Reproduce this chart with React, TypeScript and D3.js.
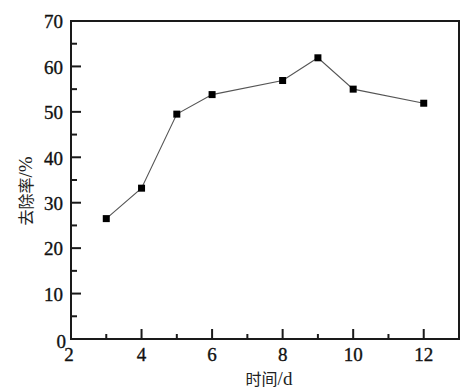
import React from "react";
import * as d3 from "d3";

const days = [3, 4, 5, 6, 8, 9, 10, 12];
const removal = [26.5, 33.2, 49.5, 53.8, 56.9, 61.9, 55.0, 51.9];
const xTicks = [2, 4, 6, 8, 10, 12];
const xMinor = [3, 5, 7, 9, 11];
const yTicks = [0, 10, 20, 30, 40, 50, 60, 70];
const yMinor = [5, 15, 25, 35, 45, 55, 65];

const W = 475, H = 391;
const L = 71, T = 21, R = 459, B = 339;

export default function App() {
  const x = d3.scaleLinear().domain([2, 13]).range([L, R]);
  const y = d3.scaleLinear().domain([0, 70]).range([B, T]);
  const line = d3.line<number>().x((_, i) => x(days[i])).y((d) => y(d));
  const serif = "Liberation Serif, Times New Roman, serif";
  const cjk = "Noto Sans CJK SC, sans-serif";
  const numStyle = { fontFamily: serif, fontSize: 19 };
  return (
    <svg width={W} height={H} style={{ position: "absolute", left: 0, top: 0, background: "#fff" }}>
      <rect x={0} y={0} width={W} height={H} fill="#fff" />
      <path d={line(removal) || ""} fill="none" stroke="#555" strokeWidth={1.1} />
      {removal.map((v, i) => (
        <rect key={i} x={x(days[i]) - 3.5} y={y(v) - 3.5} width={7} height={7} fill="#000" />
      ))}
      <rect x={L} y={T} width={R - L} height={B - T} fill="none" stroke="#1a1a1a" strokeWidth={2} />
      {yTicks.map((t) => (
        <g key={"y" + t}>
          <line x1={L} x2={L + 10} y1={y(t)} y2={y(t)} stroke="#1a1a1a" strokeWidth={2} />
          <text x={t === 0 ? 66 : 63} y={y(t) + (t === 0 ? 2 : 0)} dy="0.38em" textAnchor="end" style={numStyle} fill="#111" stroke="#111" strokeWidth={0.35}>{t}</text>
        </g>
      ))}
      {yMinor.map((t) => (
        <line key={"ym" + t} x1={L} x2={L + 6} y1={y(t)} y2={y(t)} stroke="#1a1a1a" strokeWidth={2} />
      ))}
      {xTicks.map((t) => (
        <g key={"x" + t}>
          <line x1={x(t)} x2={x(t)} y1={B} y2={B - 10} stroke="#1a1a1a" strokeWidth={2} />
          <text x={x(t) - (t === 2 ? 2 : 0)} y={B + 22} textAnchor="middle" style={numStyle} fill="#111" stroke="#111" strokeWidth={0.35}>{t}</text>
        </g>
      ))}
      {xMinor.map((t) => (
        <line key={"xm" + t} x1={x(t)} x2={x(t)} y1={B} y2={B - 5} stroke="#1a1a1a" strokeWidth={2} />
      ))}
      <text x={269} y={385} textAnchor="middle" style={{ fontFamily: cjk, fontSize: 16 }} fill="#222">
        时间<tspan style={{ fontFamily: serif, fontSize: 19 }}>/d</tspan>
      </text>
      <text transform={`translate(32,191) rotate(-90)`} textAnchor="middle" style={{ fontFamily: cjk, fontSize: 16 }} fill="#222">
        去除率<tspan style={{ fontFamily: serif, fontSize: 19 }}>/%</tspan>
      </text>
    </svg>
  );
}
